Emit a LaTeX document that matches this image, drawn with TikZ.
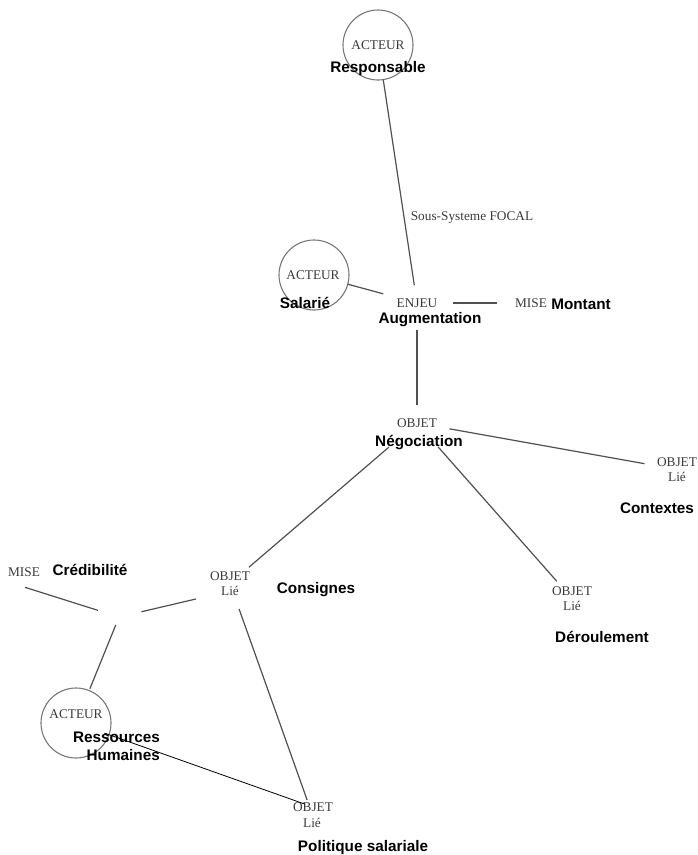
\documentclass[tikz,border=0pt]{standalone}
\usepackage{fontspec}
\setmainfont{Liberation Serif}
\newfontfamily\labfont{Liberation Sans}
\usetikzlibrary{calc}
\definecolor{linegray}{HTML}{505050}
\definecolor{circgray}{HTML}{777777}
\definecolor{tagtext}{HTML}{3A3A3A}
\begin{document}
\begin{tikzpicture}[x=1pt,y=-1pt,
  tag/.style={font=\fontsize{13.3}{15}\selectfont, text=tagtext, inner sep=0pt},
  lab/.style={font=\labfont\bfseries\fontsize{15.3}{17}\selectfont, inner sep=0pt},
  actor/.style={circle, draw=circgray, line width=1.1pt, minimum size=70pt, inner sep=0pt},
  link/.style={draw=linegray, line width=1.2pt},
  thinlink/.style={draw=black, line width=0.8pt}]
\useasboundingbox (0,0) rectangle (697,855);

% actors
\node[actor] (resp) at (378,45) {};
\node[tag] (respt) at (378,45) {ACTEUR};
\node[lab] (respl) at (378,69) {Responsable};

\node[tag] (focal) at (472,218) {Sous-Systeme FOCAL};

\node[actor] (sal) at (314,275) {};
\node[tag] (salt) at (313,275) {ACTEUR};
\node[lab] (sall) at (305,303) {Salarié};

% stake
\node[tag] (enjeu) at (417,303) {ENJEU};
\node[lab] (augm) at (430,320) {Augmentation};
\node[tag] (mise1) at (531,303) {MISE};
\node[lab] (mont) at (581,304) {Montant};

% central object
\node[tag] (nego) at (417,423) {OBJET};
\node[lab] (negol) at (419,443) {Négociation};

% linked objects
\node[tag] (ctxo) at (677,462) {OBJET};
\node[tag] (ctxl) at (677,477) {Lié};
\node[lab] (ctx) at (657,508) {Contextes};

\node[tag] (dero) at (572,591) {OBJET};
\node[tag] (derl) at (572,606) {Lié};
\node[lab] (der) at (602,637) {Déroulement};

\node[tag] (conso) at (230,576) {OBJET};
\node[tag] (consl) at (230,591) {Lié};
\node[lab] (cons) at (316,590) {Consignes};

\node[tag] (polo) at (313,807) {OBJET};
\node[tag] (poll) at (312,823) {Lié};
\node[lab] (pol) at (363,848) {Politique salariale};

% second stake
\node[tag] (mise2) at (24,572) {MISE};
\node[lab] (cred) at (90,570) {Crédibilité};
\coordinate (junc) at (119,617);

\node[actor] (rh) at (76,723) {};
\node[tag] (rht) at (76,714) {ACTEUR};
\node[lab, anchor=east] (rhl1) at (160,737) {Ressources};
\node[lab, anchor=east] (rhl2) at (160,755) {Humaines};

% reference points between stacked labels
\coordinate (ctxm) at ($(ctxo)!0.5!(ctxl)$);
\coordinate (derm) at ($(dero)!0.5!(derl)$);
\coordinate (consm) at ($(conso)!0.5!(consl)$);
\coordinate (polm) at ($(polo)!0.5!(poll)$);
\coordinate (misej) at ($(mise2)+(0,15)$);

% connectors
\draw[link, shorten <=35pt, shorten >=18pt] (resp.center) -- (enjeu.center);
\draw[link, shorten <=35pt, shorten >=35pt] (sal.center) -- (enjeu.center);
\draw[link, shorten <=36pt, shorten >=34pt] (enjeu.center) -- (mise1.center);
\draw[link, shorten <=27pt, shorten >=18pt] (enjeu.center) -- (nego.center);
\draw[link, shorten <=33pt, shorten >=33pt] (nego.center) -- (ctxm);
\draw[link, shorten <=32pt, shorten >=23pt] (nego.center) -- (derm);
\draw[link, shorten <=37pt, shorten >=25pt] (nego.center) -- (consm);
\draw[link, shorten <=27pt, shorten >=16pt] (consm) -- (polm);
\draw[link, shorten <=22pt, shorten >=1pt] (junc) -- (misej);
\draw[link, shorten <=23pt, shorten >=35pt] (junc) -- (consl.center);
\draw[link, shorten <=8.5pt, shorten >=37pt] (junc) -- (rh.center);
\draw[thinlink, shorten <=30pt, shorten >=9pt] (rh.center) -- (polo.center);
\end{tikzpicture}
\end{document}
